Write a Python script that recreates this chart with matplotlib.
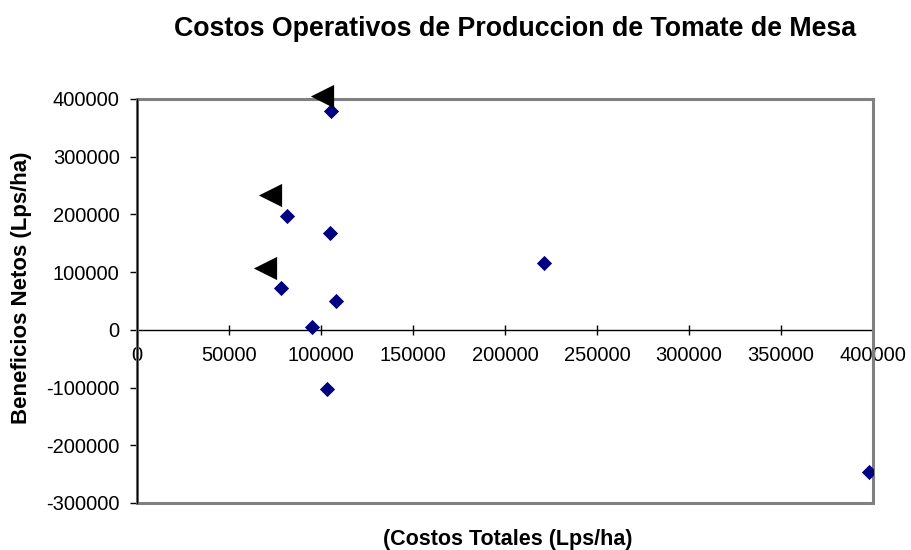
import matplotlib
matplotlib.use("Agg")
import matplotlib.pyplot as plt
from matplotlib.patches import Rectangle

plt.rcParams['font.family'] = ['Liberation Sans', 'DejaVu Sans']

# Data
costos = [105500, 81500, 105000, 78000, 108000, 95000, 103000, 221000, 398000]
beneficios = [380000, 197000, 168000, 73000, 50000, 5000, -102000, 116000, -246000]
flechas_x = [100500, 72300, 69600]
flechas_y = [405000, 234000, 107000]
xticks = [0, 50000, 100000, 150000, 200000, 250000, 300000, 350000, 400000]
yticks = [-300000, -200000, -100000, 0, 100000, 200000, 300000, 400000]

fig = plt.figure(figsize=(9.11, 5.5), dpi=100)
ax = fig.add_axes([137/911, 1-503/550, (873-137)/911, (503-99)/550])

ax.scatter(costos, beneficios, marker='D', s=60, color='#000080', zorder=5, linewidths=0)
ax.scatter(flechas_x, flechas_y, marker='<', s=280, color='black', zorder=6, linewidths=0, clip_on=False)

for s in ['top', 'right']:
    ax.spines[s].set_visible(False)
ax.spines['bottom'].set_position(('data', 0))
ax.spines['bottom'].set_color('black')
ax.spines['bottom'].set_linewidth(1)
ax.spines['left'].set_color('black')
ax.spines['left'].set_linewidth(1)
ax.spines['left'].set_zorder(4)

ax.set_xlim(0, 400000)
ax.set_ylim(-300000, 400000)
ax.set_xticks(xticks)
ax.set_yticks(yticks)
ax.set_xticklabels([str(v) for v in xticks], fontsize=14.5)
ax.set_yticklabels([str(v) for v in yticks], fontsize=14.5)

ax.add_patch(Rectangle((0, 0), 1, 1, transform=ax.transAxes, fill=False,
                       ec='#808080', lw=2.2, zorder=3, clip_on=False))

ax.tick_params(axis='x', direction='inout', length=7, width=1, pad=8)
ax.tick_params(axis='y', direction='out', length=5, width=1, pad=7.5)

fig.text(515/911, 1-29/550, 'Costos Operativos de Produccion de Tomate de Mesa',
         ha='center', va='center', fontsize=19.3, fontweight='bold')
fig.text(22/911, 1-288/550, 'Beneficios Netos (Lps/ha)', rotation=90,
         ha='center', va='center', fontsize=16, fontweight='bold')
fig.text(508/911, 1-539/550, '(Costos Totales (Lps/ha)',
         ha='center', va='center', fontsize=15.5, fontweight='bold')

fig.savefig('out.png', dpi=100)
